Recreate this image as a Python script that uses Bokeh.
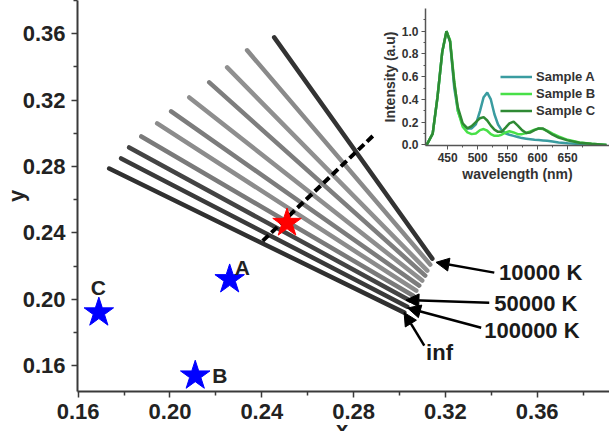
from bokeh.plotting import figure
from bokeh.models import Range1d, FixedTicker, PrintfTickFormatter, Arrow, NormalHead, Div
from bokeh.embed import file_html
from bokeh.resources import INLINE
from bokeh.core.properties import value

FONT = "Liberation Sans"

# --- CIE 1931 chromaticity of the samples -------------------------------
sample_names = ["A", "B", "C"]
sample_x = [0.226, 0.211, 0.169]
sample_y = [0.212, 0.154, 0.192]
sample_label_x = [0.2315, 0.2217, 0.1688]
sample_label_y = [0.2191, 0.1540, 0.2072]

white_x = [0.251]
white_y = [0.246]

# --- isotherm segments, from infinity (first) up to 10000 K (last) ------
iso_x0 = [0.1735, 0.1787, 0.1822, 0.1875, 0.1944, 0.2005, 0.2084, 0.2171, 0.2249, 0.2336, 0.2454]
iso_y0 = [0.2788, 0.2849, 0.2915, 0.2981, 0.3060, 0.3132, 0.3216, 0.3307, 0.3397, 0.3500, 0.3578]
iso_x1 = [0.3021, 0.3034, 0.3047, 0.3060, 0.3073, 0.3086, 0.3099, 0.3112, 0.3121, 0.3134, 0.3143]
iso_y1 = [0.1920, 0.1956, 0.1992, 0.2022, 0.2052, 0.2083, 0.2113, 0.2143, 0.2173, 0.2209, 0.2245]
iso_colors = ["#303030", "#3a3a3a", "#444444", "#7a7a7a", "#8c8c8c", "#7c7c7c", "#8e8e8e",
              "#7e7e7e", "#909090", "#8a8a8a", "#333333"]

# Planckian locus segment (dashed)
locus_x = [0.2404, 0.2890]
locus_y = [0.2352, 0.2992]

# --- temperature call-outs ----------------------------------------------
cct_text = ["10000 K", "50000 K", "100000 K", "inf"]
cct_text_x = [0.3434, 0.3413, 0.3369, 0.3116]
cct_text_y = [0.2161, 0.1977, 0.1811, 0.1678]
arrow_x0 = [0.3413, 0.3391, 0.3356, 0.3108]
arrow_y0 = [0.2161, 0.1980, 0.1829, 0.1721]
arrow_x1 = [0.3159, 0.3028, 0.3035, 0.3020]
arrow_y1 = [0.2223, 0.1996, 0.1948, 0.1921]

x_ticks = [0.16, 0.20, 0.24, 0.28, 0.32, 0.36]
y_ticks = [0.16, 0.20, 0.24, 0.28, 0.32, 0.36]

# --- emission spectra ---------------------------------------------------
wavelength = [415, 425, 433, 441, 448, 454, 461, 467, 475, 483, 490, 497, 504, 510, 516, 522,
              528, 534, 540, 547, 553, 560, 567, 574, 581, 588, 595, 602, 609, 616, 625, 635,
              650, 670, 690, 715]
spec_a = [0.0, 0.10, 0.42, 0.82, 1.0, 0.91, 0.50, 0.30, 0.18, 0.145, 0.145, 0.18, 0.30, 0.42, 0.46, 0.40,
          0.27, 0.18, 0.13, 0.10, 0.09, 0.08, 0.07, 0.06, 0.055, 0.05, 0.045, 0.043, 0.04, 0.037, 0.03, 0.022,
          0.015, 0.008, 0.004, 0.0]
spec_b = [0.0, 0.10, 0.42, 0.82, 1.0, 0.92, 0.56, 0.30, 0.16, 0.11, 0.095, 0.10, 0.13, 0.14, 0.125, 0.095,
          0.08, 0.08, 0.09, 0.11, 0.12, 0.11, 0.095, 0.095, 0.105, 0.12, 0.135, 0.145, 0.14, 0.125, 0.10, 0.075,
          0.045, 0.022, 0.01, 0.0]
spec_c = [0.0, 0.10, 0.42, 0.82, 1.0, 0.91, 0.54, 0.33, 0.19, 0.145, 0.165, 0.20, 0.235, 0.245, 0.215, 0.17,
          0.135, 0.115, 0.115, 0.155, 0.19, 0.205, 0.17, 0.13, 0.105, 0.11, 0.13, 0.145, 0.145, 0.12, 0.09, 0.065,
          0.04, 0.02, 0.01, 0.0]
spec_ticks_x = [450, 500, 550, 600, 650]
spec_ticks_y = [0.0, 0.2, 0.4, 0.6, 0.8, 1.0]

# ======================= main chromaticity plot ==========================
p = figure(width=609, height=431, output_backend="svg", toolbar_location=None,
           x_range=Range1d(0.1597, 0.3915), y_range=Range1d(0.1445, 0.38),
           min_border_left=77, min_border_right=0, min_border_top=0, min_border_bottom=40)
p.outline_line_color = None
p.grid.visible = False
p.background_fill_color = "white"

for ax in (p.xaxis[0], p.yaxis[0]):
    ax.axis_line_color = "#3a3a3a"
    ax.axis_line_width = 2
    ax.major_tick_line_color = "#3a3a3a"
    ax.minor_tick_line_color = "#3a3a3a"
    ax.major_tick_line_width = 1.5
    ax.minor_tick_line_width = 1.5
    ax.major_tick_out = 6
    ax.major_tick_in = 0
    ax.minor_tick_out = 4
    ax.minor_tick_in = 0
    ax.major_label_standoff = 6
    ax.major_label_text_font = FONT
    ax.major_label_text_font_style = "bold"
    ax.major_label_text_font_size = "22px"
    ax.major_label_text_color = "#222222"
    ax.formatter = PrintfTickFormatter(format="%.2f")

p.xaxis.ticker = FixedTicker(ticks=x_ticks, minor_ticks=[t + 0.02 for t in x_ticks])
p.yaxis.ticker = FixedTicker(ticks=y_ticks, minor_ticks=[t + 0.02 for t in y_ticks])
p.yaxis.axis_label = "y"
p.yaxis.axis_label_text_font = FONT
p.yaxis.axis_label_text_font_style = "bold"
p.yaxis.axis_label_text_font_size = "22px"
p.yaxis.axis_label_text_color = "#222222"
p.yaxis.axis_label_standoff = -9

# isotherms
for i in range(len(iso_x0)):
    p.line([iso_x0[i], iso_x1[i]], [iso_y0[i], iso_y1[i]], line_color=iso_colors[i],
           line_width=4.5, line_cap="round")

# locus
p.line(locus_x, locus_y, line_color="black", line_width=4, line_dash="8 4")

# stars
p.scatter(sample_x, sample_y, marker="star", size=31, fill_color="#0000ff", line_color="#0000ff")
p.scatter(white_x, white_y, marker="star", size=30, fill_color="#ff0000", line_color="#ff0000")
p.text(sample_label_x, sample_label_y, text=sample_names, text_font=value(FONT),
       text_font_style="bold", text_font_size="21px", text_color="#222222",
       text_align="center", text_baseline="middle")

# temperature call-outs
for i in range(len(cct_text)):
    p.add_layout(Arrow(end=NormalHead(size=13, fill_color="black", line_color="black"),
                       x_start=arrow_x0[i], y_start=arrow_y0[i], x_end=arrow_x1[i], y_end=arrow_y1[i],
                       line_color="black", line_width=2.5))
p.text(cct_text_x, cct_text_y, text=cct_text, text_font=value(FONT), text_font_style="bold",
       text_font_size="22px", text_color="#1a1a1a", text_align="left", text_baseline="middle")

# x-axis title sits at the very bottom edge of the page
x_title = Div(text="x", width=20, height=26,
              styles={"position": "absolute", "left": "336px", "top": "417px", "margin": "0",
                      "font-family": FONT, "font-weight": "bold", "font-size": "22px",
                      "color": "#222222", "line-height": "normal"})

# ============================ spectra inset =============================
inset = figure(width=261, height=185, output_backend="svg", toolbar_location=None,
               x_range=Range1d(413, 720), y_range=Range1d(-0.005, 1.2),
               min_border_left=77, min_border_right=0, min_border_top=8, min_border_bottom=40)
inset.styles = {"position": "absolute", "left": "348px", "top": "0px"}
inset.outline_line_color = None
inset.grid.visible = False
inset.background_fill_alpha = 0
inset.border_fill_alpha = 0

for ax in (inset.xaxis[0], inset.yaxis[0]):
    ax.axis_line_color = "#555555"
    ax.axis_line_width = 1.5
    ax.major_tick_line_color = "#555555"
    ax.minor_tick_line_color = "#555555"
    ax.major_tick_out = 4
    ax.major_tick_in = 0
    ax.minor_tick_out = 2
    ax.minor_tick_in = 0
    ax.major_label_standoff = 3
    ax.major_label_text_font = FONT
    ax.major_label_text_font_style = "bold"
    ax.major_label_text_font_size = "12px"
    ax.major_label_text_color = "#333333"
    ax.axis_label_text_font = FONT
    ax.axis_label_text_font_style = "bold"
    ax.axis_label_text_font_size = "14px"
    ax.axis_label_text_color = "#333333"
    ax.axis_label_standoff = 1
inset.xaxis.ticker = FixedTicker(ticks=spec_ticks_x, minor_ticks=[t + 25 for t in [425] + spec_ticks_x])
inset.yaxis.ticker = FixedTicker(ticks=spec_ticks_y, minor_ticks=[t + 0.1 for t in spec_ticks_y])
inset.yaxis.formatter = PrintfTickFormatter(format="%.1f")
inset.xaxis.axis_label = "wavelength (nm)"
inset.yaxis.axis_label = "Intensity (a.u)"

inset.line(wavelength, spec_a, line_color="#3a9ca0", line_width=2.5, legend_label="Sample A")
inset.line(wavelength, spec_b, line_color="#48e048", line_width=2.5, legend_label="Sample B")
inset.line(wavelength, spec_c, line_color="#2f8a34", line_width=2.5, legend_label="Sample C")

lg = inset.legend[0]
lg.location = (75, 26)
lg.background_fill_alpha = 0
lg.border_line_alpha = 0
lg.padding = 0
lg.margin = 0
lg.spacing = 0
lg.glyph_width = 32
lg.glyph_height = 17
lg.label_height = 17
lg.label_standoff = 4
lg.label_text_font = FONT
lg.label_text_font_style = "bold"
lg.label_text_font_size = "13px"
lg.label_text_color = "#333333"

html = file_html([p, inset, x_title], INLINE)
html = html.replace("<head>", "<head><style>html, body { margin: 0; padding: 0; overflow: hidden; }</style>", 1)
open("out.html", "w").write(html)
